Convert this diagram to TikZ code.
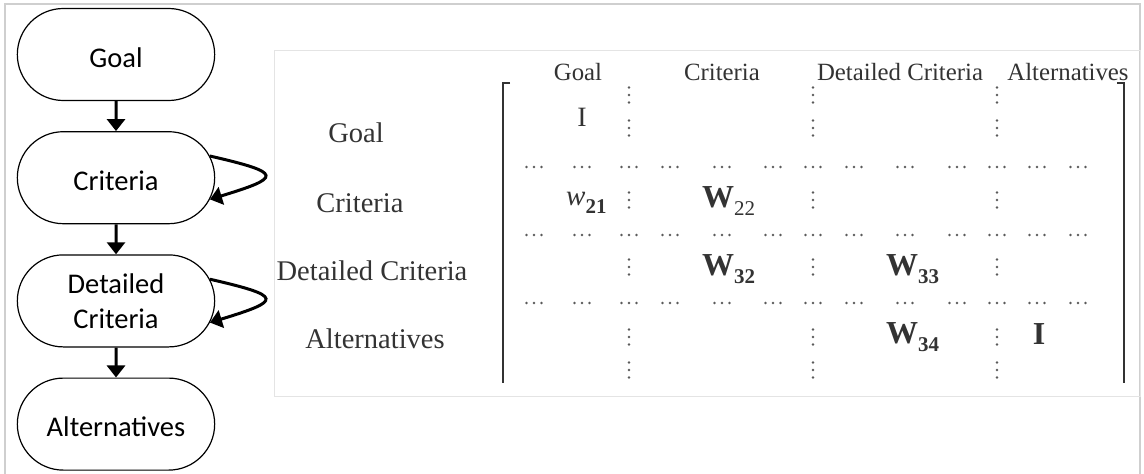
\documentclass[tikz,border=0pt]{standalone}
\usepackage{fontspec}
\setmainfont{Carlito}
\newfontfamily\matfont{Liberation Serif}
\usetikzlibrary{arrows.meta,shapes.misc,positioning}

\definecolor{framegray}{HTML}{CFCFCF}
\definecolor{panelgray}{HTML}{E4E4E4}
\definecolor{txtgray}{HTML}{333333}
\definecolor{dotgray}{HTML}{5A5A5A}

% lowered index for the block names
\newcommand\lowidx[1]{\raisebox{-8pt}{\fontsize{21}{21}\selectfont #1}}

\tikzset{
  level/.style={rounded rectangle, draw, line width=1.2pt, fill=white,
    minimum width=204pt, minimum height=92pt, align=center,
    font=\fontsize{28.5}{35}\selectfont},
  oneline/.style={text height=25pt, text depth=0pt},
  flow/.style={line width=3pt, -{Triangle[length=12pt,width=18pt]}},
  rowlab/.style={anchor=base, inner sep=0pt, text=txtgray,
    font=\matfont\fontsize{28.5}{30}\selectfont},
  collab/.style={anchor=base, inner sep=0pt, text=txtgray,
    font=\matfont\fontsize{24.8}{26}\selectfont},
  entry/.style={anchor=base west, inner sep=0pt, text=txtgray,
    font=\matfont\fontsize{32}{32}\selectfont},
  brk/.style={line width=2pt, draw=txtgray},
}

\begin{document}
\begin{tikzpicture}[x=1pt, y=-1pt]
    \useasboundingbox (0,0) rectangle (1144,474);
    \draw[framegray, line width=2.5pt] (5,4) rectangle (1140,500);

    % hierarchy on the left
    \node[level, oneline] (goal) at (116,54.5) {Goal};
    \node[level, oneline] (crit) [below=30pt of goal] {Criteria};
    \node[level] (dcrit) [below=30pt of crit] {Detailed\\Criteria};
    \node[level, oneline] (alt) [below=30pt of dcrit] {Alternatives};
    \path[flow]
    (goal) edge (crit)
    (crit) edge (dcrit)
    (dcrit) edge (alt)
    ;
    \draw[flow] (crit.13) .. controls +(74,17) and +(72,-22) .. (crit.-13);
    \draw[flow] (dcrit.13) .. controls +(74,17) and +(72,-22) .. (dcrit.-13);

    % supermatrix
    \draw[panelgray, line width=1pt] (274,50) rectangle (1140,396);
    \node[collab] (hgoal) at (578,80) {Goal};
    \node[collab] (hcrit) at (722,80) {Criteria};
    \node[collab] (hdcrit) at (900,80) {Detailed Criteria};
    \node[collab] (halt) at (1068,80) {Alternatives};
    \node[rowlab] (rgoal) at (356,142) {Goal};
    \node[rowlab] (rcrit) at (360,212) {Criteria};
    \node[rowlab] (rdcrit) at (372,280) {Detailed Criteria};
    \node[rowlab] (ralt) at (375,348) {Alternatives};

    \draw[brk] (510,83) -- (503,83) -- (503,383);
    \draw[brk] (1117,83) -- (1124,83) -- (1124,383);

    \foreach \y in {167,235,303}
      \foreach \x in {534,582,629,670,722,773,813,854,905,957,997,1037,1078}
        \foreach \d in {-7.5,0,7.5}
          \fill[dotgray] (\x+\d,\y) circle (1.3pt);
    \foreach \x in {629,813,997}
      \foreach \y in {95,128,200,267,337,370}
        \foreach \d in {-7.5,0,7.5}
          \fill[dotgray] (\x,\y+\d) circle (1.3pt);

    \node[entry, anchor=base, font=\matfont\fontsize{28}{28}\selectfont] (i11) at (582,126) {I};
    \node[entry, font=\matfont\fontsize{29}{29}\selectfont] (w21) at (566,205) {\textit{w}\lowidx{\textbf{21}}};
    \node[entry] (w22) at (702,207) {\textbf{W}\lowidx{22}};
    \node[entry] (w32) at (702,275) {\textbf{W}\lowidx{\textbf{32}}};
    \node[entry] (w33) at (886,275) {\textbf{W}\lowidx{\textbf{33}}};
    \node[entry] (w34) at (886,343) {\textbf{W}\lowidx{\textbf{34}}};
    \node[entry, anchor=base] (i44) at (1039,344) {\textbf{I}};
\end{tikzpicture}
\end{document}
